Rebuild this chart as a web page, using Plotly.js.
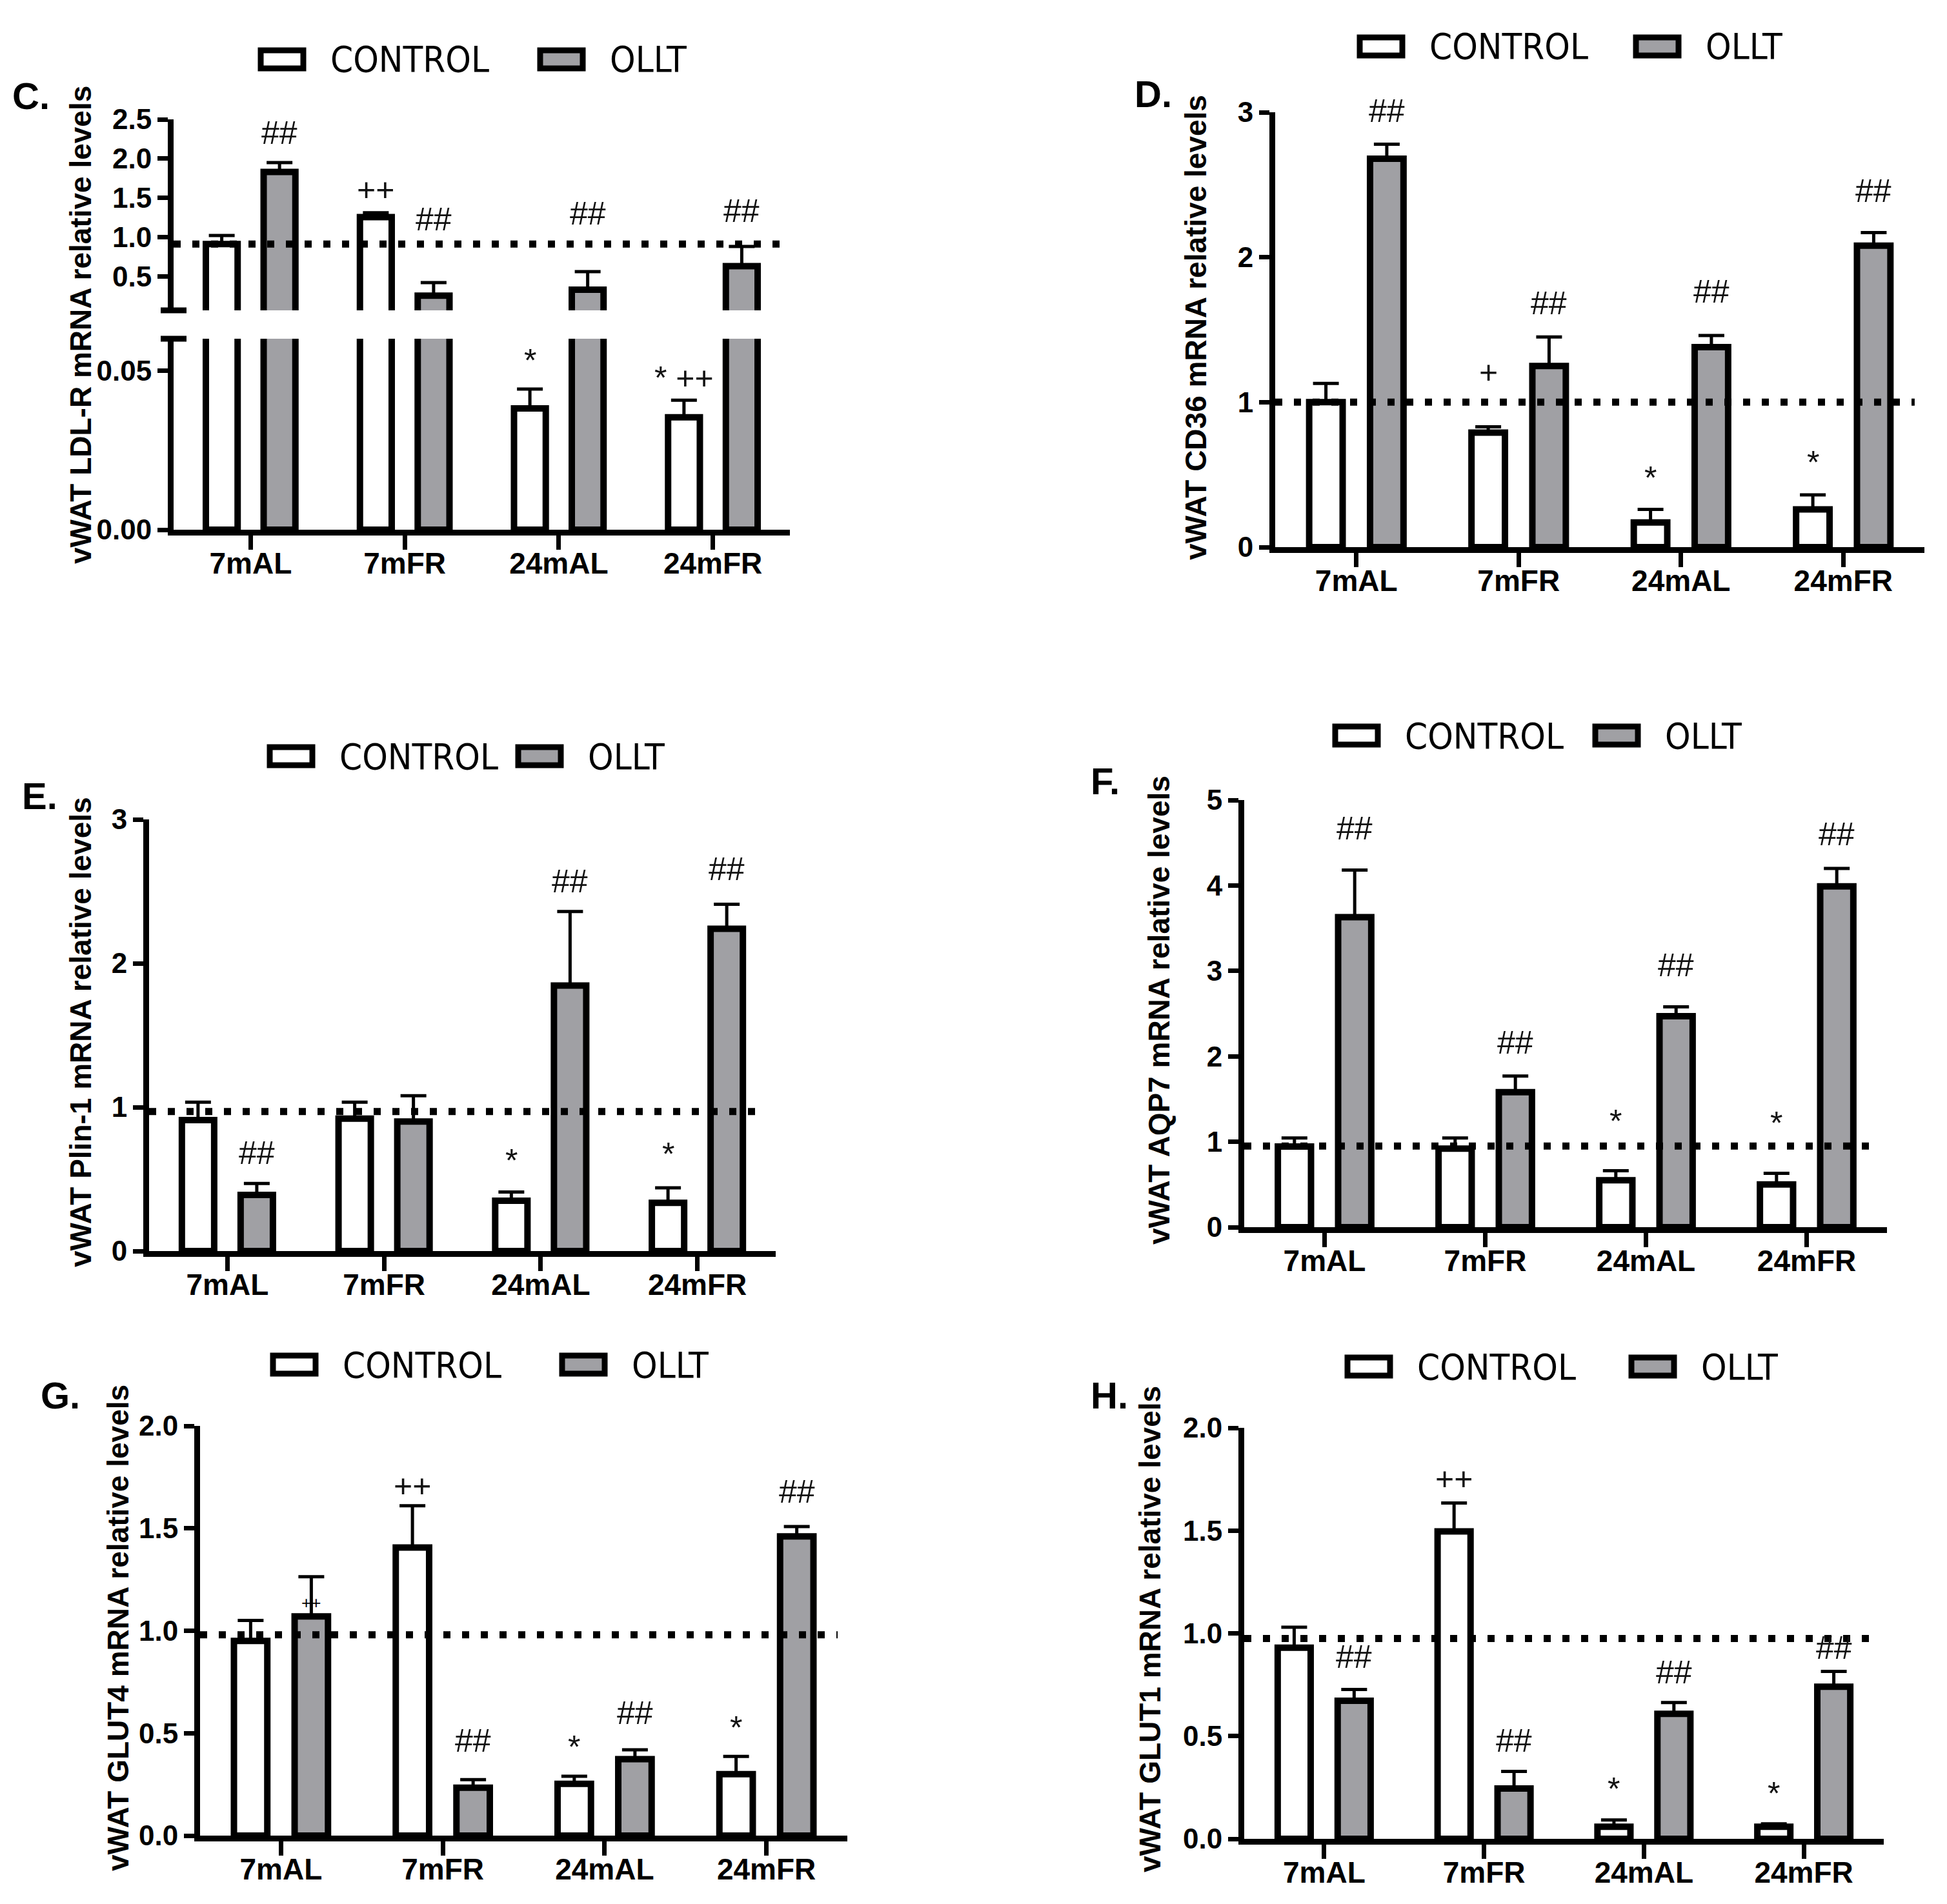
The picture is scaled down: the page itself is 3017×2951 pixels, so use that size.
<!DOCTYPE html>
<html>
<head>
<meta charset="utf-8">
<script src="https://cdn.plot.ly/plotly-3.0.1.min.js"></script>
<style>
  html, body { margin: 0; padding: 0; background: #fff; }
  #chart { width: 3017px; height: 2951px; }
</style>
</head>
<body>
<div id="chart"></div>
<script>
var W = 3017, H = 2951;

var groups = ['7mAL', '7mFR', '24mAL', '24mFR'];

// C. LDL-R (broken axis)
var ldlrControl = [0.91, 1.255, 0.0381, 0.0353];
var ldlrControlSem = [0.11, 0.055, 0.0061, 0.0054];
var ldlrOllt = [1.83, 0.254, 0.33, 0.63];
var ldlrOlltSem = [0.12, 0.166, 0.23, 0.25];
var ldlrControlSig = ['', '++', '*', '* ++'];
var ldlrOlltSig = ['##', '##', '##', '##'];

// D. CD36
var cd36Control = [1.0, 0.79, 0.17, 0.26];
var cd36ControlSem = [0.13, 0.04, 0.09, 0.10];
var cd36Ollt = [2.68, 1.25, 1.38, 2.08];
var cd36OlltSem = [0.10, 0.20, 0.08, 0.09];
var cd36ControlSig = ['', '+', '*', '*'];
var cd36OlltSig = ['##', '##', '##', '##'];

// E. Plin-1
var plinControl = [0.91, 0.92, 0.35, 0.335];
var plinControlSem = [0.125, 0.115, 0.06, 0.105];
var plinOllt = [0.39, 0.90, 1.845, 2.24];
var plinOlltSem = [0.08, 0.18, 0.515, 0.17];
var plinControlSig = ['', '', '*', '*'];
var plinOlltSig = ['##', '', '##', '##'];

// F. AQP7
var aqp7Control = [0.945, 0.92, 0.55, 0.50];
var aqp7ControlSem = [0.10, 0.125, 0.11, 0.13];
var aqp7Ollt = [3.63, 1.58, 2.47, 3.99];
var aqp7OlltSem = [0.55, 0.19, 0.11, 0.21];
var aqp7ControlSig = ['', '', '*', '*'];
var aqp7OlltSig = ['##', '##', '##', '##'];

// G. GLUT4
var glut4Control = [0.95, 1.406, 0.253, 0.30];
var glut4ControlSem = [0.10, 0.204, 0.037, 0.087];
var glut4Ollt = [1.07, 0.234, 0.373, 1.461];
var glut4OlltSem = [0.194, 0.039, 0.046, 0.048];
var glut4ControlSig = ['', '++', '*', '*'];
var glut4OlltSig = ['', '##', '##', '##'];
var glut4OlltInnerSig = ['++', '', '', ''];

// H. GLUT1
var glut1Control = [0.93, 1.496, 0.059, 0.059];
var glut1ControlSem = [0.10, 0.138, 0.033, 0.014];
var glut1Ollt = [0.672, 0.245, 0.608, 0.74];
var glut1OlltSem = [0.055, 0.083, 0.055, 0.075];
var glut1ControlSig = ['', '++', '*', '*'];
var glut1OlltSig = ['##', '##', '##', '##'];

// dotted reference level per panel (C..H)
var refLevel = [0.91, 1.0, 0.97, 0.95, 0.98, 0.975];

var seriesNames = ['CONTROL', 'OLLT'];
var seriesFill = ['#ffffff', '#a0a0a4'];

var BARGAP = 0.25;
var BOLD = 'Liberation Sans, Arial, sans-serif';
var NARROW = 'Liberation Sans Narrow, DejaVu Sans Condensed, Liberation Sans, Arial, sans-serif';
var BAR_LINE = 10;

function px(x) { return x / W; }
function py(y) { return 1 - y / H; }

// panel boxes in picture pixels; *Lift = gap (px) between error cap and its mark
var panels = [
  { letter: 'C.', title: 'vWAT LDL-R mRNA relative levels',
    xa: 'x', ya: 'y', yaUpper: 'y2',
    x: [269, 1224], y: [525, 821], yUpper: [185, 481],
    range: [0, 0.06], tickvals: [0, 0.05], fmt: '.2f',
    rangeUpper: [0.066, 2.5], tickvalsUpper: [0.5, 1, 1.5, 2, 2.5], fmtUpper: '.1f',
    ctrl: ldlrControl, ctrlSem: ldlrControlSem, ollt: ldlrOllt, olltSem: ldlrOlltSem,
    ctrlSig: ldlrControlSig, olltSig: ldlrOlltSig,
    ctrlLift: [45, 36, 44, 34], olltLift: [46, 98, 90, 55],
    titlePos: [125, 504], letterPos: [17, 148], legend: [404, 837, 92] },
  { letter: 'D.', title: 'vWAT CD36 mRNA relative levels',
    xa: 'x2', ya: 'y3', x: [1976, 2982], y: [174, 848],
    range: [0, 3], tickvals: [0, 1, 2, 3], fmt: 'd',
    ctrl: cd36Control, ctrlSem: cd36ControlSem, ollt: cd36Ollt, olltSem: cd36OlltSem,
    ctrlSig: cd36ControlSig, olltSig: cd36OlltSig,
    ctrlLift: [45, 85, 49, 50], olltLift: [51, 52, 68, 64],
    titlePos: [1853, 508], letterPos: [1756, 146], legend: [2107, 2535, 72] },
  { letter: 'E.', title: 'vWAT Plin-1 mRNA relative levels',
    xa: 'x3', ya: 'y4', x: [231, 1202], y: [1270, 1939],
    range: [0, 3], tickvals: [0, 1, 2, 3], fmt: 'd',
    ctrl: plinControl, ctrlSem: plinControlSem, ollt: plinOllt, olltSem: plinOlltSem,
    ctrlSig: plinControlSig, olltSig: plinOlltSig,
    ctrlLift: [45, 45, 49, 52], olltLift: [47, 45, 47, 55],
    titlePos: [125, 1600], letterPos: [32, 1234], legend: [418, 803, 1172] },
  { letter: 'F.', title: 'vWAT AQP7 mRNA relative levels',
    xa: 'x4', ya: 'y5', x: [1928, 2924], y: [1240, 1902],
    range: [0, 5], tickvals: [0, 1, 2, 3, 4, 5], fmt: 'd',
    ctrl: aqp7Control, ctrlSem: aqp7ControlSem, ollt: aqp7Ollt, olltSem: aqp7OlltSem,
    ctrlSig: aqp7ControlSig, olltSig: aqp7OlltSig,
    ctrlLift: [45, 45, 77, 78], olltLift: [65, 52, 64, 53],
    titlePos: [1796, 1566], letterPos: [1688, 1210], legend: [2069, 2472, 1140] },
  { letter: 'G.', title: 'vWAT GLUT4 mRNA relative levels',
    xa: 'x5', ya: 'y6', x: [310, 1313], y: [2210, 2845],
    range: [0, 2], tickvals: [0, 0.5, 1, 1.5, 2], fmt: '.1f',
    ctrl: glut4Control, ctrlSem: glut4ControlSem, ollt: glut4Ollt, olltSem: glut4OlltSem,
    ctrlSig: glut4ControlSig, olltSig: glut4OlltSig,
    ctrlLift: [45, 31, 45, 44], olltLift: [45, 60, 57, 54],
    titlePos: [183, 2523], letterPos: [61, 2162], legend: [423, 871, 2115] },
  { letter: 'H.', title: 'vWAT GLUT1 mRNA relative levels',
    xa: 'x6', ya: 'y7', x: [1928, 2919], y: [2213, 2850],
    range: [0, 2], tickvals: [0, 0.5, 1, 1.5, 2], fmt: '.1f',
    ctrl: glut1Control, ctrlSem: glut1ControlSem, ollt: glut1Ollt, olltSem: glut1OlltSem,
    ctrlSig: glut1ControlSig, olltSig: glut1OlltSig,
    ctrlLift: [45, 38, 48, 47], olltLift: [50, 48, 47, 36],
    titlePos: [1782, 2525], letterPos: [1688, 2162], legend: [2088, 2528, 2118] }
];

function axisKey(id) {
  return id.charAt(0) + 'axis' + id.slice(1);
}

// bars whose top sits below the visible range get no outline (broken axis)
function CreateBarTrace(vals, sem, k, xa, ya, floor) {
  return {
    type: 'bar',
    x: groups,
    y: vals,
    name: seriesNames[k],
    xaxis: xa,
    yaxis: ya,
    showlegend: false,
    hoverinfo: 'skip',
    marker: {
      color: seriesFill[k],
      line: { color: '#000', width: vals.map(function (v) { return v > floor ? BAR_LINE : 0; }) }
    },
    error_y: {
      type: 'data', symmetric: false,
      array: sem, arrayminus: sem.map(function () { return 0; }),
      color: '#000', thickness: 5, width: 20
    }
  };
}

function CreateCatAxis(p) {
  return {
    domain: [px(p.x[0]), px(p.x[1])],
    anchor: p.ya,
    type: 'category',
    range: [-0.5, 3.5],
    showline: true, linewidth: 9, linecolor: '#000',
    ticks: 'outside', ticklen: 22, tickwidth: 7, tickcolor: '#000',
    ticklabelstandoff: -18,
    tickfont: { family: BOLD, size: 46, color: '#000', weight: 'bold' },
    showgrid: false, zeroline: false, fixedrange: true
  };
}

function CreateValAxis(domainPx, anchor, range, tickvals, fmt) {
  return {
    domain: [py(domainPx[1]), py(domainPx[0])],
    anchor: anchor,
    range: range,
    tickmode: 'array', tickvals: tickvals, tickformat: fmt,
    showline: true, linewidth: 9, linecolor: '#000',
    ticks: 'outside', ticklen: 16, tickwidth: 7, tickcolor: '#000',
    tickfont: { family: BOLD, size: 44, color: '#000', weight: 'bold' },
    showgrid: false, zeroline: false, fixedrange: true
  };
}

var data = [];
var layout = {
  width: W, height: H,
  margin: { l: 0, r: 0, t: 0, b: 0, pad: 0 },
  paper_bgcolor: '#fff', plot_bgcolor: 'rgba(0,0,0,0)',
  font: { family: BOLD, color: '#000' },
  barmode: 'group', bargap: BARGAP, bargroupgap: 0.45,
  showlegend: false,
  shapes: [], annotations: []
};

var offset = (1 - BARGAP) / 4;

panels.forEach(function (p, n) {
  // same bars drawn in each y segment; the subplot clips them
  data.push(CreateBarTrace(p.ctrl, p.ctrlSem, 0, p.xa, p.ya, p.range[0]));
  data.push(CreateBarTrace(p.ollt, p.olltSem, 1, p.xa, p.ya, p.range[0]));
  if (p.yaUpper) {
    data.push(CreateBarTrace(p.ctrl, p.ctrlSem, 0, p.xa, p.yaUpper, p.rangeUpper[0]));
    data.push(CreateBarTrace(p.ollt, p.olltSem, 1, p.xa, p.yaUpper, p.rangeUpper[0]));
  }

  layout[axisKey(p.xa)] = CreateCatAxis(p);
  layout[axisKey(p.ya)] = CreateValAxis(p.y, p.xa, p.range, p.tickvals, p.fmt);
  if (p.yaUpper) {
    layout[axisKey(p.yaUpper)] = CreateValAxis(p.yUpper, p.xa, p.rangeUpper, p.tickvalsUpper, p.fmtUpper);
    // caps at the axis break
    layout.shapes.push({ type: 'line', xref: 'paper', yref: p.yaUpper + ' domain',
      x0: px(p.x[0] - 20), x1: px(p.x[0] + 20), y0: 0, y1: 0, line: { color: '#000', width: 9 } });
    layout.shapes.push({ type: 'line', xref: 'paper', yref: p.ya + ' domain',
      x0: px(p.x[0] - 20), x1: px(p.x[0] + 20), y0: 1, y1: 1, line: { color: '#000', width: 9 } });
  }

  // dotted reference line
  var refAxis = p.yaUpper || p.ya;
  layout.shapes.push({ type: 'line', layer: 'above', xref: p.xa + ' domain', yref: refAxis,
    x0: 0, x1: 0.985, y0: refLevel[n], y1: refLevel[n],
    line: { color: '#000', width: 11, dash: '11px,18px' } });

  // significance marks above the error bars
  [[p.ctrl, p.ctrlSem, p.ctrlSig, -offset, p.ctrlLift],
   [p.ollt, p.olltSem, p.olltSig, offset, p.olltLift]].forEach(function (s) {
    for (var i = 0; i < groups.length; i++) {
      if (!s[2][i]) continue;
      var top = s[0][i] + s[1][i];
      var ya = p.ya;
      if (p.yaUpper && top > p.rangeUpper[0]) ya = p.yaUpper;
      layout.annotations.push({ xref: p.xa, yref: ya, x: i + s[3], y: top,
        text: s[2][i], showarrow: false, yanchor: 'middle', yshift: s[4][i],
        font: { family: 'Liberation Sans, Arial, sans-serif', size: 50, color: '#111' } });
    }
  });

  // y title, panel letter
  layout.annotations.push({ xref: 'paper', yref: 'paper', x: px(p.titlePos[0]), y: py(p.titlePos[1]),
    text: p.title, textangle: -90, showarrow: false, xanchor: 'center', yanchor: 'middle',
    font: { family: BOLD, size: 46, color: '#000', weight: 'bold' } });
  layout.annotations.push({ xref: 'paper', yref: 'paper', x: px(p.letterPos[0]), y: py(p.letterPos[1]),
    text: p.letter, showarrow: false, xanchor: 'left', yanchor: 'middle',
    font: { family: BOLD, size: 58, color: '#000', weight: 'bold' } });

  // legend: box + label per series
  var lg = p.legend;
  [lg[0], lg[1]].forEach(function (left, k) {
    layout.shapes.push({ type: 'rect', xref: 'paper', yref: 'paper',
      x0: px(left), x1: px(left + 66), y0: py(lg[2] + 14), y1: py(lg[2] - 14),
      fillcolor: seriesFill[k], line: { color: '#000', width: 9 } });
    layout.annotations.push({ xref: 'paper', yref: 'paper', x: px(left + 106), y: py(lg[2]),
      text: seriesNames[k], showarrow: false, xanchor: 'left', yanchor: 'middle',
      font: { family: NARROW, size: 56, color: '#000' } });
  });
});

// the half-hidden "++" sitting on the 7mAL OLLT bar in G
glut4OlltInnerSig.forEach(function (t, i) {
  if (!t) return;
  layout.annotations.push({ xref: 'x5', yref: 'y6', x: i + offset, y: glut4Ollt[i],
    text: t, showarrow: false, yanchor: 'bottom', yshift: 4,
    font: { family: 'Liberation Sans, Arial, sans-serif', size: 26, color: '#000' } });
});

Plotly.newPlot('chart', data, layout, { staticPlot: true, displayModeBar: false });
</script>
</body>
</html>
